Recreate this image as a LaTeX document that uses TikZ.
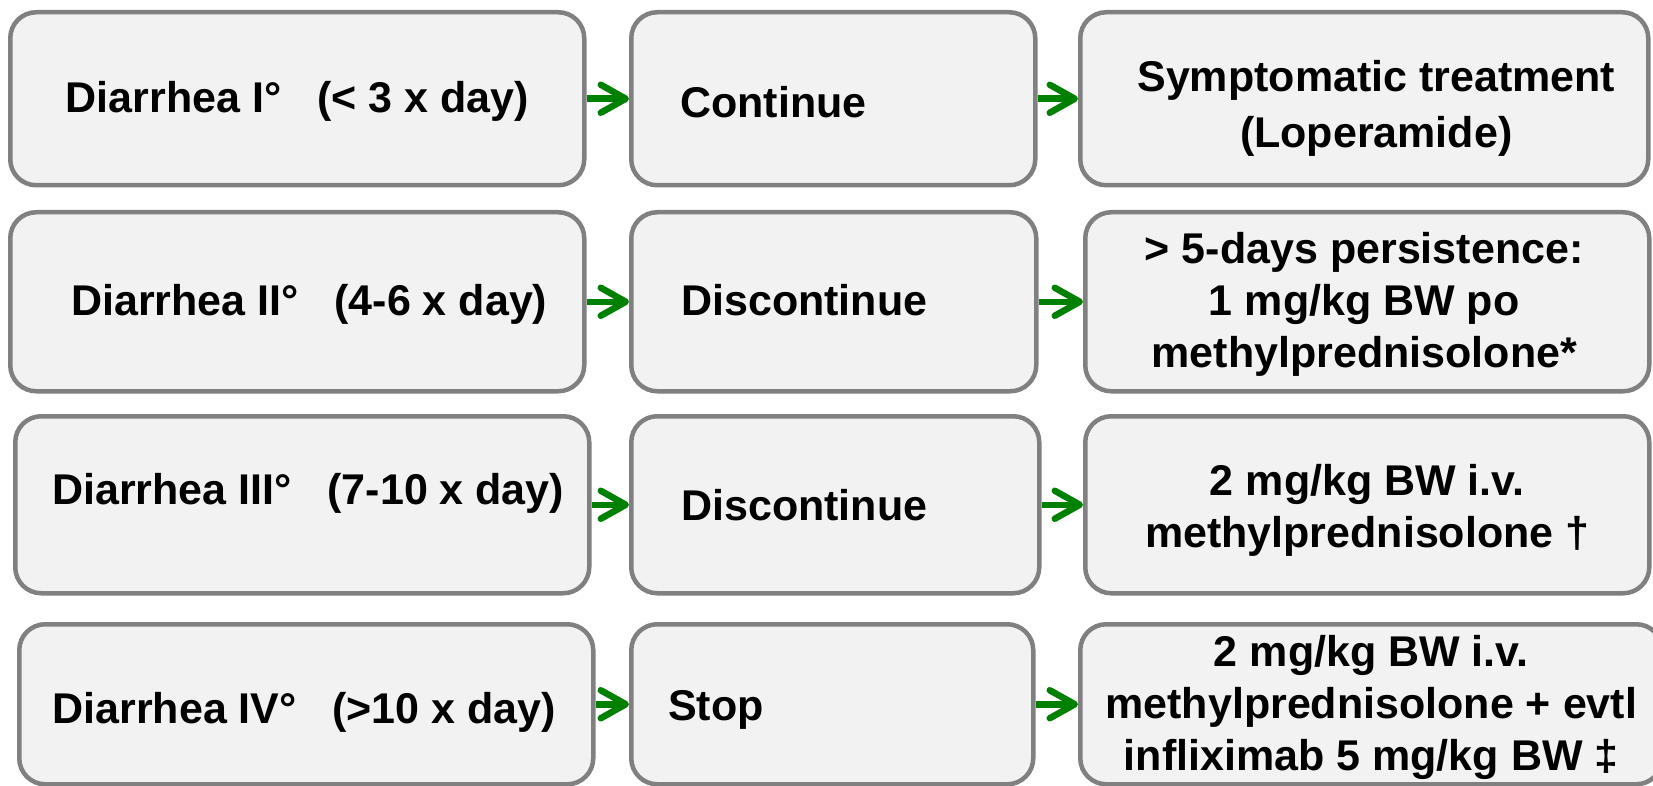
\documentclass[tikz,border=0pt]{standalone}
\usepackage{fontspec}
\setmainfont{Liberation Sans}
\usetikzlibrary{arrows.meta}

\definecolor{cardfill}{HTML}{F2F2F2}
\definecolor{cardline}{HTML}{808080}
\definecolor{flowgreen}{HTML}{008000}

% content moved inside its card (push right, raise) while its box keeps
% its natural height and depth, so the card still centres the same box
\newcommand\offsettext[3]{\raisebox{#2}[\height][\depth]{\hspace*{#1}#3}}
% centred block of lines, moved the same way
\newcommand\offsetlines[3]{\raisebox{#2}[\height][\depth]{\hspace*{#1}\begin{tabular}{@{}c@{}}#3\end{tabular}}}

\tikzset{
  card/.style 2 args={draw=cardline, fill=cardfill, line width=4.5pt,
    rounded corners=26pt, anchor=north west, inner sep=0pt,
    minimum width=#1, minimum height=#2,
    font=\fontsize{43}{52}\selectfont\bfseries, align=center},
  leftcard/.style n args={4}{card={#1}{#2}, align=left,
    text width=#3, inner xsep=#4},
  flow/.style={draw=flowgreen, line width=6.5pt,
    -{Straight Barb[length=25pt, width=28pt, round]}},
}

\begin{document}
\begin{tikzpicture}[x=1pt, y=-1pt]
\useasboundingbox (0,0) rectangle (1653,786);
\clip (0,0) rectangle (1653,786);

% grade I
\node[card={574pt}{173pt}] (a1) at (8,10) {\offsettext{0pt}{-3pt}{Diarrhea I°~~~(< 3 x day)}};
\node[leftcard={404pt}{173pt}{306pt}{49pt}] (b1) at (629,10) {\offsettext{0pt}{-3pt}{Continue}};
\node[card={568pt}{173pt}] (c1) at (1078,10)
  {\offsetlines{24pt}{-10pt}{Symptomatic treatment\\[4pt](Loperamide)}};

% grade II
\node[card={574pt}{179pt}] (a2) at (8,210) {\offsettext{24pt}{-3pt}{Diarrhea II°~~~(4-6 x day)}};
\node[leftcard={405pt}{179pt}{305pt}{50pt}] (b2) at (629,210) {\offsettext{0pt}{2pt}{Discontinue}};
\node[card={564pt}{179pt}] (c2) at (1083,210)
  {\offsetlines{-6pt}{-3pt}{> 5-days persistence:\\1 mg/kg BW po\\methylprednisolone*}};

% grade III
\node[card={574pt}{177pt}] (a3) at (13,414) {\offsettext{12pt}{11pt}{Diarrhea III°~~~(7-10 x day)}};
\node[leftcard={408pt}{177pt}{308pt}{50pt}] (b3) at (629,414) {Discontinue};
\node[card={564pt}{177pt}] (c3) at (1083,414)
  {\offsetlines{0pt}{-6pt}{2 mg/kg BW i.v.\\methylprednisolone †}};

% grade IV
\node[card={574pt}{160pt}] (a4) at (17,622) {\offsettext{-4pt}{-8pt}{Diarrhea IV°~~~(>10 x day)}};
\node[leftcard={402pt}{160pt}{328pt}{37pt}] (b4) at (629,622) {\offsettext{0pt}{-6pt}{Stop}};
\node[card={582pt}{160pt}] (c4) at (1078,622)
  {\offsetlines{0pt}{-4pt}{2 mg/kg BW i.v.\\methylprednisolone + evtl\\infliximab 5 mg/kg BW ‡}};

% connectors
\draw[flow] (a1) -- (b1);
\draw[flow] (b1) -- (c1);
\draw[flow] (a2) -- (b2);
\draw[flow] (b2) -- (c2);
\draw[flow] (a3) -- (b3);
\draw[flow] (b3) -- (c3);
\draw[flow] (a4) -- (b4);
\draw[flow] (b4) -- (c4);
\end{tikzpicture}
\end{document}
